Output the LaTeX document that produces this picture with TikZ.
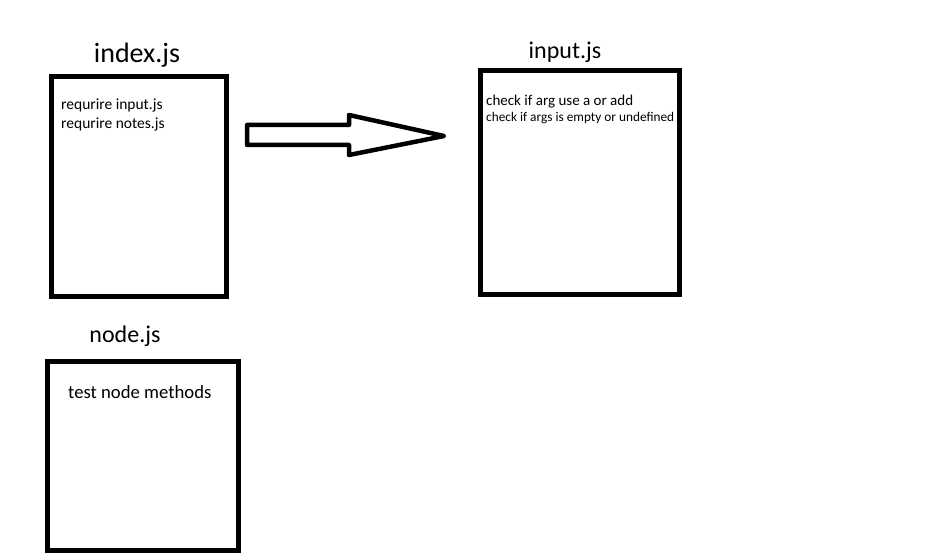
\documentclass[tikz,border=0pt]{standalone}
\usepackage{fontspec}
\setmainfont{Carlito}
\begin{document}
\begin{tikzpicture}[x=1pt,y=-1pt,
  filebox/.style={draw=black,line width=5pt,inner sep=0pt,outer sep=0pt,fill=white},
  lbl/.style={inner sep=0pt,text=black}]
\useasboundingbox[fill=white] (0,0) rectangle (952,556);
% boxes
\node[filebox,minimum width=175pt,minimum height=220pt,anchor=north west] (index) at (51.5,76.5) {};
\node[filebox,minimum width=199pt,minimum height=224pt,anchor=north west] (input) at (480.5,70.5) {};
\node[filebox,minimum width=191pt,minimum height=189pt,anchor=north west] (nodejs) at (47.5,361.5) {};
% titles
\node[lbl,anchor=base,font=\fontsize{28}{34}\selectfont] (tindex) at (137,63) {index.js};
\node[lbl,anchor=base,font=\fontsize{24}{29}\selectfont] (tinput) at (565,59) {input.js};
\node[lbl,anchor=base,font=\fontsize{24}{29}\selectfont] (tnode) at (125,342) {node.js};
% contents
\node[lbl,anchor=base west,font=\fontsize{15.5}{19}\selectfont] (r1) at (61,110) {requrire input.js};
\node[lbl,anchor=base west,font=\fontsize{15.5}{19}\selectfont] (r2) at (61,129) {requrire notes.js};
\node[lbl,anchor=base west,font=\fontsize{15}{18}\selectfont] (c1) at (486,106) {check if arg use a or add};
\node[lbl,anchor=base west,font=\fontsize{13.3}{16}\selectfont] (c2) at (486,122) {check if args is empty or undefined};
\node[lbl,anchor=base west,font=\fontsize{18.7}{22}\selectfont] (t1) at (68,398) {test node methods};
% block arrow
\draw[line width=4.5pt,line join=round,fill=white]
  (247,125) -- (349,125) -- (349,115) -- (444,136) -- (349,155) -- (349,145) -- (247,145) -- cycle;
\end{tikzpicture}
\end{document}
